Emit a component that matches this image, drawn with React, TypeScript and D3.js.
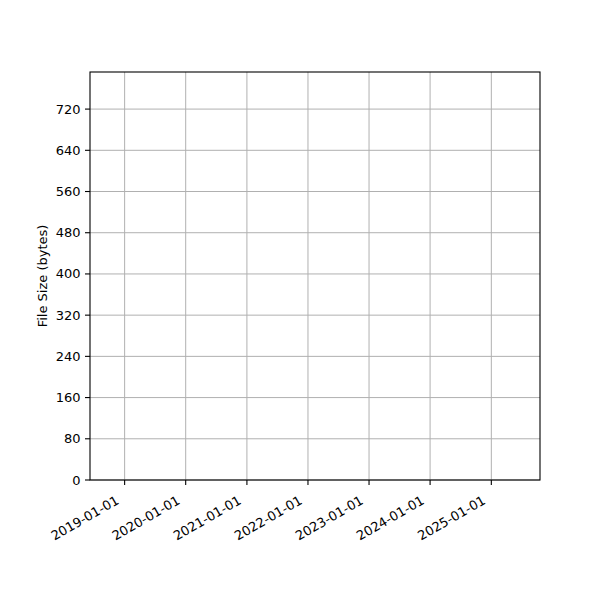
import * as d3 from "d3";
import { useEffect, useRef } from "react";

// series (the reference chart has no plotted points)
const commitDates: string[] = [];
const fileSizes: number[] = [];

const xTickLabels = [
  "2019-01-01",
  "2020-01-01",
  "2021-01-01",
  "2022-01-01",
  "2023-01-01",
  "2024-01-01",
  "2025-01-01",
];
const yTickValues = [0, 80, 160, 240, 320, 400, 480, 560, 640, 720];

const xDomain = ["2018-06-08", "2025-10-19"];
const yDomain = [0, 792];

export default function App() {
  const ref = useRef<SVGSVGElement>(null);

  useEffect(() => {
    if (!ref.current) return;
    const svg = d3.select(ref.current);
    svg.selectAll("*").remove();

    const width = 600;
    const height = 600;
    const margin = { top: 72, right: 60, bottom: 120, left: 90 };
    const innerW = width - margin.left - margin.right;
    const innerH = height - margin.top - margin.bottom;
    const font = "DejaVu Sans, sans-serif";

    svg.attr("width", width).attr("height", height);
    svg.append("rect").attr("width", width).attr("height", height).attr("fill", "#fff");

    const parse = d3.utcParse("%Y-%m-%d");
    const x = d3
      .scaleUtc()
      .domain(xDomain.map((d) => parse(d) as Date))
      .range([0, innerW]);
    const y = d3.scaleLinear().domain(yDomain).range([innerH, 0]);

    const g = svg.append("g").attr("transform", `translate(${margin.left},${margin.top})`);

    const xTicks = xTickLabels.map((d) => parse(d) as Date);

    // grid
    g.selectAll(".vgrid")
      .data(xTicks)
      .join("line")
      .attr("x1", (d) => x(d))
      .attr("x2", (d) => x(d))
      .attr("y1", 0)
      .attr("y2", innerH)
      .attr("stroke", "#b0b0b0")
      .attr("stroke-width", 1);
    g.selectAll(".hgrid")
      .data(yTickValues)
      .join("line")
      .attr("x1", 0)
      .attr("x2", innerW)
      .attr("y1", (d) => y(d))
      .attr("y2", (d) => y(d))
      .attr("stroke", "#b0b0b0")
      .attr("stroke-width", 1);

    // data line (empty)
    const pts = commitDates.map((d, i) => ({ date: parse(d) as Date, value: fileSizes[i] }));
    const line = d3
      .line<{ date: Date; value: number }>()
      .x((d) => x(d.date))
      .y((d) => y(d.value));
    g.append("path")
      .datum(pts)
      .attr("fill", "none")
      .attr("stroke", "#1f77b4")
      .attr("stroke-width", 2)
      .attr("d", line);

    // frame
    g.append("rect")
      .attr("width", innerW)
      .attr("height", innerH)
      .attr("fill", "none")
      .attr("stroke", "#000")
      .attr("stroke-width", 1.1);

    // y ticks
    g.selectAll(".ytick")
      .data(yTickValues)
      .join("line")
      .attr("x1", -5)
      .attr("x2", 0)
      .attr("y1", (d) => y(d))
      .attr("y2", (d) => y(d))
      .attr("stroke", "#000")
      .attr("stroke-width", 1.1);
    g.selectAll(".ylab")
      .data(yTickValues)
      .join("text")
      .attr("x", -9.5)
      .attr("y", (d) => y(d))
      .attr("text-anchor", "end")
      .attr("dominant-baseline", "central")
      .style("font-family", font)
      .style("font-size", "13px")
      .style("fill", "#000")
      .text((d) => d);

    // x ticks
    g.selectAll(".xtick")
      .data(xTicks)
      .join("line")
      .attr("x1", (d) => x(d))
      .attr("x2", (d) => x(d))
      .attr("y1", innerH)
      .attr("y2", innerH + 5)
      .attr("stroke", "#000")
      .attr("stroke-width", 1.1);
    g.selectAll(".xlab")
      .data(xTicks)
      .join("text")
      .attr("transform", (d) => `translate(${x(d) - 10},${innerH + 14}) rotate(-30)`)
      .attr("text-anchor", "end")
      .attr("dy", "0.8em")
      .style("font-family", font)
      .style("font-size", "13px")
      .style("fill", "#000")
      .text((d, i) => xTickLabels[i]);

    // y axis label
    svg
      .append("text")
      .attr("transform", `translate(42,${margin.top + innerH / 2}) rotate(-90)`)
      .attr("text-anchor", "middle")
      .attr("dominant-baseline", "central")
      .style("font-family", font)
      .style("font-size", "13px")
      .style("fill", "#000")
      .text("File Size (bytes)");
  }, []);

  return <svg ref={ref} style={{ position: "absolute", left: 0, top: 0 }} />;
}
